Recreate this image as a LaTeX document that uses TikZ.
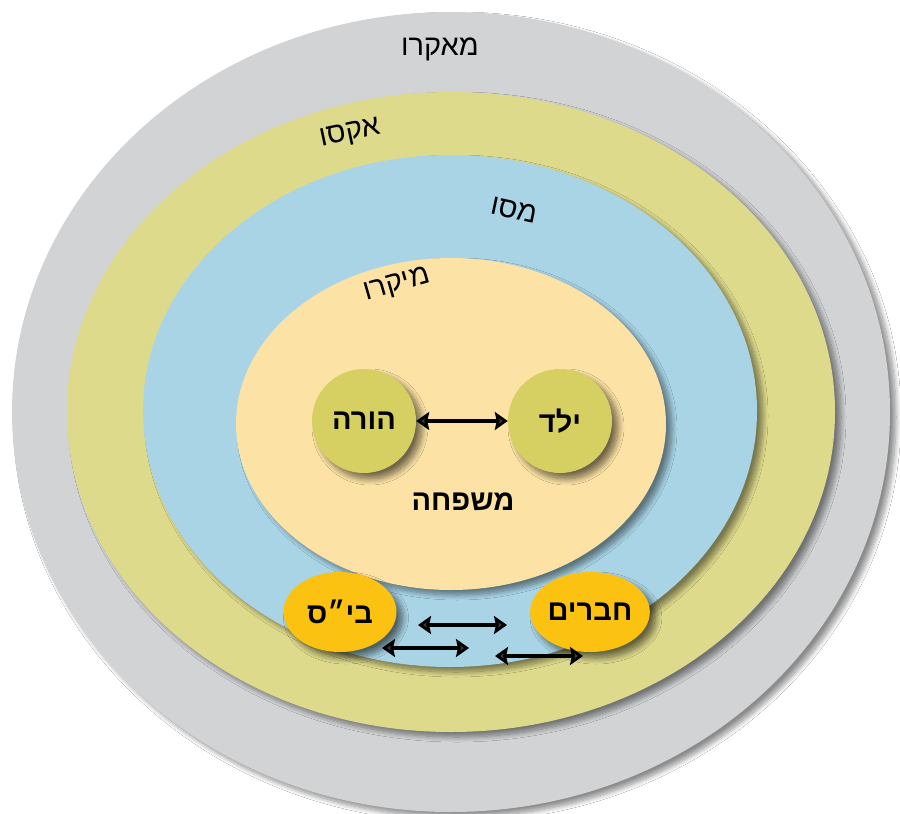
\documentclass[tikz,border=0pt]{standalone}
\usepackage{fontspec}
\TeXXeTstate=1
\newfontfamily\heb[Script=Hebrew]{Liberation Sans}
\usetikzlibrary{arrows.meta,shapes.geometric,shadows.blur}
\definecolor{macroc}{HTML}{D1D3D4}
\definecolor{exoc}{HTML}{DEDA8C}
\definecolor{mesoc}{HTML}{A8D4E6}
\definecolor{microc}{HTML}{FCE2A4}
\definecolor{olivec}{HTML}{D6CF62}
\definecolor{orangec}{HTML}{FCC212}
\tikzset{
  layer/.style={blur shadow={shadow xshift=6pt,shadow yshift=-5pt,shadow blur steps=10,shadow blur radius=5pt,shadow opacity=45}},
  lbl/.style={font=\heb\fontsize{29}{32}\selectfont},
  blbl/.style={font=\heb\bfseries\fontsize{29}{32}\selectfont},
  person/.style={circle,fill=olivec,minimum size=104pt,inner sep=0pt,blbl,
     blur shadow={shadow xshift=6pt,shadow yshift=-6pt,shadow blur steps=10,shadow blur radius=6pt,shadow opacity=55}},
  group/.style={ellipse,fill=orangec,minimum width=113pt,minimum height=80pt,inner sep=0pt,blbl,
     blur shadow={shadow xshift=6pt,shadow yshift=-6pt,shadow blur steps=10,shadow blur radius=6pt,shadow opacity=55}},
  link/.style={line width=3.2pt,{Stealth[length=13pt,width=18pt,inset=2pt]}-{Stealth[length=13pt,width=18pt,inset=2pt]}}
}
\begin{document}
\begin{tikzpicture}[x=1pt,y=-1pt]
\useasboundingbox[fill=white] (0,0) rectangle (900,814);
\fill[macroc,layer] (451,412) ellipse [x radius=439,y radius=400];
\fill[exoc,layer] (451,412) ellipse [x radius=384,y radius=320];
\fill[mesoc,layer] (450,411) ellipse [x radius=307,y radius=256];
\fill[microc,layer] (451,424) ellipse [x radius=215,y radius=166];

\node[lbl] (macro) at (440,49) {\beginR מאקרו\endR};
\node[lbl,rotate=12] (exo) at (350,134) {\beginR אקסו\endR};
\node[lbl,rotate=-12] (meso) at (514,210) {\beginR מסו\endR};
\node[lbl,rotate=16] (micro) at (397,285) {\beginR מיקרו\endR};

\node[person] (parent) at (364,421) {\beginR הורה\endR};
\node[person] (child) at (560,421) {\beginR ילד\endR};
\node[blbl] (family) at (463,502) {\beginR משפחה\endR};

\node[group] (school) at (340,612) {\beginR בי״ס\endR};
\node[group] (friends) at (590,612) {\beginR חברים\endR};

\draw[link] (parent) -- (child);

\coordinate (a1l) at (418,625); \coordinate (a1r) at (507,625);
\coordinate (a2l) at (382,648); \coordinate (a2r) at (469,648);
\coordinate (a3l) at (495,656); \coordinate (a3r) at (583,656);
\draw[link] (a1l) -- (a1r);
\draw[link] (a2l) -- (a2r);
\draw[link] (a3l) -- (a3r);
\end{tikzpicture}
\end{document}
